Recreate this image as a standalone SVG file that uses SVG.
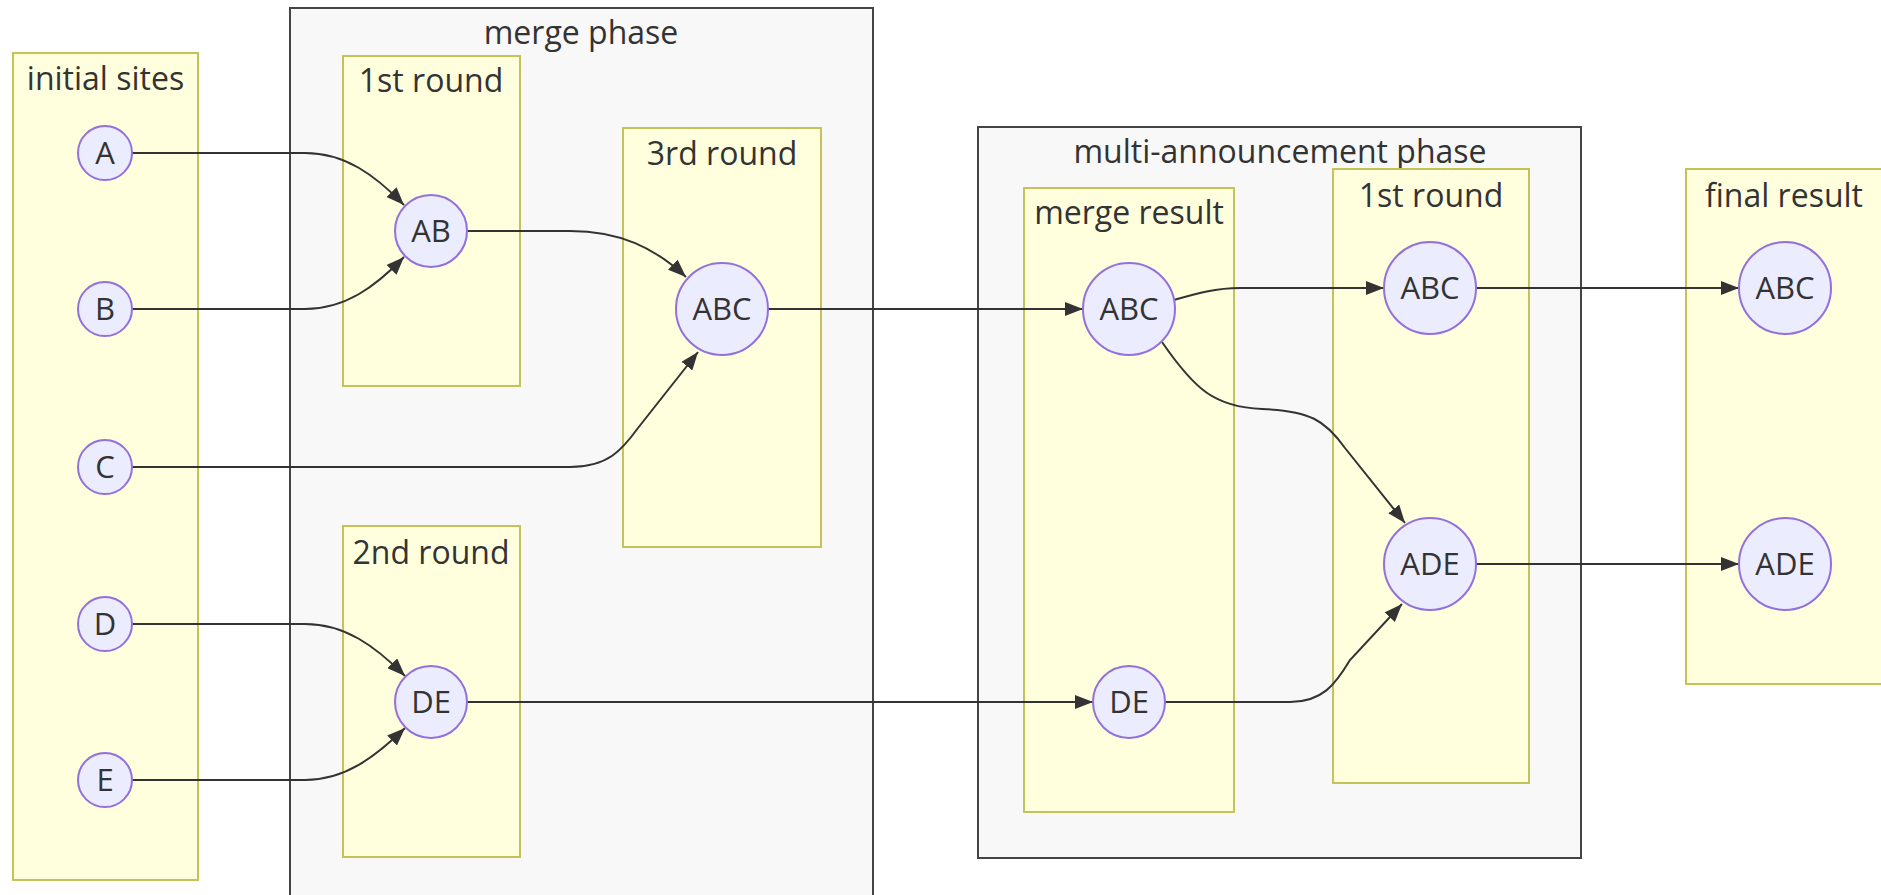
<svg xmlns="http://www.w3.org/2000/svg" width="1881" height="895" viewBox="0 0 1881 895">
<style>
  .phase { fill: #f8f8f8; stroke: #444; stroke-width: 2; }
  .cluster { fill: #ffffde; stroke: #c3c35a; stroke-width: 2; }
  .title { font-family: "Open Sans", "Noto Sans", sans-serif; font-size: 32px; fill: #333; text-anchor: middle; }
  .node circle { fill: #ececff; stroke: #9370db; stroke-width: 2; }
  .node text { font-family: "Open Sans", "Noto Sans", sans-serif; font-size: 31px; fill: #333; text-anchor: middle; }
  .edge { fill: none; stroke: #333; stroke-width: 2; marker-end: url(#arrow); }
</style>
<defs>
  <marker id="arrow" viewBox="0 0 18 14" refX="18" refY="7" markerWidth="18" markerHeight="14" markerUnits="userSpaceOnUse" orient="auto">
    <path d="M0,0 L18,7 L0,14 z" fill="#333"/>
  </marker>
</defs>
<rect width="1881" height="895" fill="#ffffff"/>

<g id="cluster-merge-phase">
  <rect class="phase" x="290" y="8" width="583" height="900"/>
  <text class="title" x="581" y="44">merge phase</text>
</g>
<g id="cluster-multi-phase">
  <rect class="phase" x="978" y="127" width="603" height="731"/>
  <text class="title" x="1280" y="163">multi-announcement phase</text>
</g>
<g id="cluster-initial-sites">
  <rect class="cluster" x="13" y="53" width="185" height="827"/>
  <text class="title" x="105.5" y="90">initial sites</text>
</g>
<g id="cluster-round1">
  <rect class="cluster" x="343" y="56" width="177" height="330"/>
  <text class="title" x="431" y="92">1st round</text>
</g>
<g id="cluster-round3">
  <rect class="cluster" x="623" y="128" width="198" height="419"/>
  <text class="title" x="722" y="165">3rd round</text>
</g>
<g id="cluster-round2">
  <rect class="cluster" x="343" y="526" width="177" height="331"/>
  <text class="title" x="431" y="564">2nd round</text>
</g>
<g id="cluster-merge-result">
  <rect class="cluster" x="1024" y="188" width="210" height="624"/>
  <text class="title" x="1129" y="224">merge result</text>
</g>
<g id="cluster-multi-round1">
  <rect class="cluster" x="1333" y="169" width="196" height="614"/>
  <text class="title" x="1431" y="207">1st round</text>
</g>
<g id="cluster-final-result">
  <rect class="cluster" x="1686" y="169" width="196" height="515"/>
  <text class="title" x="1784" y="207">final result</text>
</g>

<g id="connectors">
  <path class="edge" d="M132,153 L305,153 C345,153 375,175 404,205"/>
  <path class="edge" d="M132,309 L305,309 C345,309 375,287 404,257"/>
  <path class="edge" d="M132,624 L305,624 C345,624 375,646 405,676"/>
  <path class="edge" d="M132,780 L305,780 C345,780 375,757 405,728"/>
  <path class="edge" d="M467,231 L570,231 C620,231 655,248 686,277"/>
  <path class="edge" d="M132,467 L570,467 C608,467 622,450 638,428 L698,352"/>
  <path class="edge" d="M768,309 L1083,309"/>
  <path class="edge" d="M467,702 L1093,702"/>
  <path class="edge" d="M1174,300 C1195,294 1215,288 1240,288 L1384,288"/>
  <path class="edge" d="M1162,342 C1195,390 1215,407 1262,409 C1310,411 1325,420 1345,448 L1405,523"/>
  <path class="edge" d="M1165,702 L1290,702 C1322,702 1335,685 1350,660 L1402,604"/>
  <path class="edge" d="M1476,288 L1739,288"/>
  <path class="edge" d="M1476,564 L1739,564"/>
</g>

<g id="node-A" class="node"><circle cx="105" cy="153" r="27"/><text x="105" y="164">A</text></g>
<g id="node-B" class="node"><circle cx="105" cy="309" r="27"/><text x="105" y="320">B</text></g>
<g id="node-C" class="node"><circle cx="105" cy="467" r="27"/><text x="105" y="478">C</text></g>
<g id="node-D" class="node"><circle cx="105" cy="624" r="27"/><text x="105" y="635">D</text></g>
<g id="node-E" class="node"><circle cx="105" cy="780" r="27"/><text x="105" y="791">E</text></g>
<g id="node-AB" class="node"><circle cx="431" cy="231" r="36"/><text x="431" y="242">AB</text></g>
<g id="node-DE" class="node"><circle cx="431" cy="702" r="36"/><text x="431" y="713">DE</text></g>
<g id="node-ABC3" class="node"><circle cx="722" cy="309" r="46"/><text x="722" y="320">ABC</text></g>
<g id="node-ABCm" class="node"><circle cx="1129" cy="309" r="46"/><text x="1129" y="320">ABC</text></g>
<g id="node-DEm" class="node"><circle cx="1129" cy="702" r="36"/><text x="1129" y="713">DE</text></g>
<g id="node-ABC1" class="node"><circle cx="1430" cy="288" r="46"/><text x="1430" y="299">ABC</text></g>
<g id="node-ADE1" class="node"><circle cx="1430" cy="564" r="46"/><text x="1430" y="575">ADE</text></g>
<g id="node-ABCf" class="node"><circle cx="1785" cy="288" r="46"/><text x="1785" y="299">ABC</text></g>
<g id="node-ADEf" class="node"><circle cx="1785" cy="564" r="46"/><text x="1785" y="575">ADE</text></g>
</svg>
